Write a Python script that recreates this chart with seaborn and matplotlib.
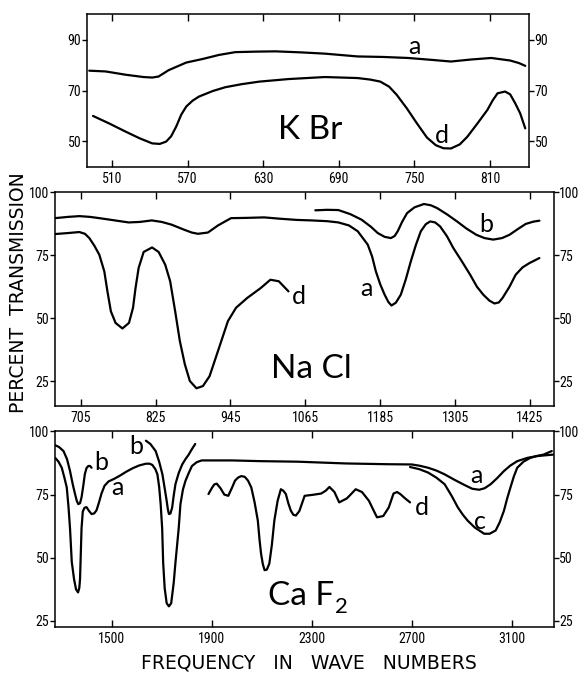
import matplotlib
matplotlib.use("Agg")
import matplotlib.pyplot as plt
from matplotlib import font_manager
import seaborn as sns
import pandas as pd

sns.set_theme(style="ticks")

# narrow lettering for the tick numbers if some condensed face is installed
fonts = font_manager.fontManager.ttflist
names = {f.name for f in fonts}
narrow_family = None
narrow_stretch = "normal"
for n in ["Liberation Sans Narrow", "DejaVu Sans Condensed", "Roboto Condensed", "Open Sans Condensed", "Noto Sans Condensed"]:
    if n in names:
        narrow_family = n
        break
if narrow_family is None:
    for f in fonts:
        if f.name == "DejaVu Sans" and "condensed" in str(f.stretch):
            narrow_family = "DejaVu Sans"
            narrow_stretch = "condensed"
            break
if narrow_family is None:
    narrow_family = "Liberation Sans"
    tick_size = 8.5
else:
    tick_size = 10

plt.rcParams["font.family"] = ["DejaVu Sans"]
plt.rcParams["text.color"] = "black"
plt.rcParams["axes.linewidth"] = 1.1
plt.rcParams["axes.edgecolor"] = "black"

# ---- KBr ----
kbr_a_x = [492, 505, 521, 535, 542, 547, 555, 569, 582, 595, 608, 625, 640, 660, 679, 705, 725, 745, 765, 779, 795, 811, 826, 833, 838]
kbr_a_y = [77.8, 77.5, 76.2, 75.3, 75.1, 75.5, 78, 81, 82.4, 84, 85.1, 85.3, 85.4, 85, 84.5, 83.4, 83.2, 82.8, 82, 81.4, 82.2, 82.8, 81.8, 80.8, 79.7]
kbr_d_x = [495, 508, 521, 532, 542, 548, 553, 557, 561, 565, 569, 574, 579, 590, 600, 613, 627, 650, 679, 705, 715, 723, 730, 736, 744,
           752, 760, 767, 773, 779, 786, 792, 800, 808, 812, 816, 822, 826, 830, 834, 838]
kbr_d_y = [60, 57, 53.8, 51.2, 49.2, 49, 49.9, 52, 55.8, 60.5, 63.7, 66, 67.6, 69.8, 71.3, 72.5, 73.5, 74.5, 75.3, 74.9, 74.3, 73.5, 71.5, 68.3, 63,
           57.1, 51.5, 48.5, 47.3, 47.2, 48.8, 51.8, 57, 62.4, 66, 68.9, 69.6, 68.5, 65, 61, 55.1]

# ---- NaCl ----
nacl_a_x = [664, 685, 703, 720, 735, 760, 782, 800, 819, 835, 851, 870, 883, 893, 909, 925, 946, 970, 999, 1023, 1051, 1075, 1100, 1118,
            1135, 1149, 1165, 1172, 1178, 1185, 1192, 1198, 1203, 1210, 1218, 1226, 1234, 1242, 1250, 1258, 1265, 1273, 1281, 1292,
            1302, 1316, 1329, 1340, 1350, 1360, 1368, 1375, 1381, 1392, 1402, 1413, 1424, 1440]
nacl_a_y = [89.7, 90.2, 90.5, 90.2, 89.7, 88.8, 88, 88.2, 88.8, 88.2, 87.1, 85.2, 84, 83.5, 84, 86.8, 89.7, 89.8, 90, 89.5, 89, 88.8, 88.5, 88,
            86.8, 84.5, 79.2, 74.5, 68.6, 63.5, 59.4, 56.5, 55.1, 56.2, 59.4, 65.5, 72.6, 79, 84.5, 87.3, 88.4, 88, 86.4, 82.5,
            77.9, 72.5, 67.3, 62.5, 59.4, 57, 55.9, 56.3, 58.1, 62.5, 67.3, 70.2, 71.9, 73.9]
nacl_b_x = [1081, 1100, 1118, 1137, 1155, 1170, 1181, 1192, 1202, 1208, 1213, 1220, 1228, 1240, 1255, 1266, 1276, 1292, 1308, 1323,
            1339, 1352, 1366, 1380, 1392, 1405, 1418, 1430, 1440]
nacl_b_y = [92.8, 93, 92.9, 91.3, 89.1, 86.3, 83.8, 82.3, 81.8, 82.6, 84.5, 88.2, 91.7, 94, 95.3, 94.8, 93.7, 91.2, 88.4, 85.6,
            83.1, 81.8, 81.2, 81.8, 83.1, 85.3, 87.4, 88.3, 88.7]
nacl_d_x = [664, 685, 703, 712, 719, 727, 735, 743, 748, 753.5, 761, 772, 782.5, 789, 793, 798, 806, 819.5, 830, 840.5, 848.5, 856.5,
            864, 872, 880, 890.6, 901, 911.6, 925, 941, 954, 972, 993.5, 1009, 1022.5, 1038]
nacl_d_y = [83.4, 83.8, 84.2, 83.5, 81.8, 78.8, 75.2, 68.6, 60.7, 52.8, 48.2, 46, 48.2, 54.2, 62, 70, 76.3, 78.1, 76.3, 71.3, 64.7, 52.8,
            41, 31.8, 25.2, 22.3, 23.2, 27.1, 37, 48.9, 54.2, 58.1, 62, 65.3, 64.7, 60.7]

# ---- CaF2 ----
caf_a_x = [1275, 1288, 1301, 1312, 1321, 1328, 1334, 1341, 1350, 1358, 1366, 1371, 1374, 1376, 1380, 1385, 1392, 1400, 1410, 1420,
           1430, 1440, 1450, 1460, 1472, 1488, 1510, 1532, 1558, 1584, 1610, 1637, 1652, 1663, 1675, 1683, 1690, 1696, 1702, 1706,
           1712, 1720, 1729, 1738, 1748, 1755, 1768, 1775, 1785, 1795, 1808, 1821, 1840, 1860, 1979, 2100, 2242, 2435, 2600, 2699,
           2730, 2764, 2797, 2830, 2870, 2909, 2940, 2968, 2990, 3014, 3040, 3067, 3093, 3120, 3160, 3199, 3230, 3264]
caf_a_y = [89.5, 88, 85.6, 81.5, 77.8, 70, 61.6, 48.3, 41.6, 37.5, 36.3, 38, 41.6, 48.3, 61.6, 68.3, 69.8, 70, 68.5, 67.3,
           67.5, 68.8, 72, 75.5, 78.5, 80.2, 81.2, 82.4, 84, 85.4, 86.5, 87.2, 87.2, 86.7, 85, 83, 78, 71.2, 61.6, 48,
           38, 32, 30.8, 32, 40, 48, 61.6, 71.2, 77, 80.4, 83.5, 86.3, 87.8, 88.5, 88.5, 88.2, 88, 87.3, 87, 86.9,
           86.4, 85.6, 84.5, 83, 80.8, 78.8, 77.3, 76.9, 77.5, 79.1, 81.5, 84.3, 86.5, 88.2, 89.5, 90.2, 90.5, 90.8]
caf_b1_x = [1275, 1290, 1308, 1322, 1334, 1345, 1354, 1361, 1367, 1374, 1380, 1387, 1393, 1400, 1407, 1414, 1420]
caf_b1_y = [94.5, 93.8, 92.2, 89, 84.3, 79, 75.2, 72.5, 71.2, 71.6, 73.9, 78.5, 83, 85.5, 86.3, 86.3, 85.6]
caf_b2_x = [1637, 1655, 1676, 1690, 1703, 1712, 1720, 1725, 1729, 1735, 1742, 1748, 1755, 1768, 1782, 1795, 1808, 1821, 1834]
caf_b2_y = [96.3, 95, 92.2, 88, 83, 77.5, 72.5, 69, 67.3, 67.5, 69.9, 74.5, 79.1, 83.5, 86.9, 89, 90.8, 93, 95]
caf_c_x = [2692, 2730, 2764, 2797, 2830, 2858, 2883, 2903, 2922, 2950, 2988, 3010, 3034, 3050, 3067, 3080, 3093, 3106, 3120, 3145,
           3172, 3200, 3225, 3258]
caf_c_y = [85.9, 85, 83.7, 81.7, 79.1, 74.5, 69.9, 67, 64.7, 62, 59.5, 59.5, 60.8, 64, 68.6, 73.5, 77.8, 82, 85.6, 88,
           89.5, 90.3, 90.8, 92.2]
caf_d_x = [1887, 1900, 1910, 1920, 1935, 1950, 1966, 1980, 1993, 2005, 2018, 2032, 2045, 2058, 2071, 2084, 2091, 2097, 2104, 2111,
           2120, 2130, 2140, 2150, 2163, 2176, 2186, 2196, 2206, 2216, 2226, 2236, 2250, 2271, 2304, 2337, 2355, 2370, 2390, 2409,
           2440, 2475, 2500, 2528, 2545, 2560, 2585, 2607, 2626, 2640, 2653, 2672, 2692]
caf_d_y = [75.2, 77.5, 79, 79.3, 77.5, 75, 74.5, 77.5, 80.5, 81.7, 82.3, 82, 80.5, 77.8, 72, 64.7, 57, 51.6, 47.5, 45.1,
           45.3, 47.7, 55, 64.7, 72.5, 77.1, 76.5, 75.2, 71.5, 68.6, 67, 66.7, 68.5, 74.5, 74.9, 75.4, 76.5, 78, 76, 71.9,
           73.5, 77.1, 76, 72.5, 69, 66, 66.5, 69.9, 75.4, 76, 75.2, 73.5, 71.9]

kbr_xticks = [510, 570, 630, 690, 750, 810]
kbr_yticks = [50, 70, 90]
nacl_xticks = [705, 825, 945, 1065, 1185, 1305, 1425]
nacl_yticks = [25, 50, 75, 100]
caf_xticks = [1500, 1900, 2300, 2700, 3100]
caf_yticks = [25, 50, 75, 100]

fig = plt.figure(figsize=(5.82, 6.78), dpi=100)
ax1 = fig.add_axes([0.149, 0.754, 0.760, 0.225])
ax2 = fig.add_axes([0.0945, 0.4016, 0.857, 0.315])
ax3 = fig.add_axes([0.0945, 0.0748, 0.857, 0.289])

def draw(ax, xs, ys):
    df = pd.DataFrame({"x": xs, "y": ys})
    sns.lineplot(data=df, x="x", y="y", ax=ax, color="black", lw=1.6, sort=False, estimator=None)

def style(ax, xlim, ylim, xt, yt):
    ax.set_xlim(*xlim)
    ax.set_ylim(*ylim)
    ax.set_xticks(xt)
    ax.set_yticks(yt)
    ax.set_xlabel("")
    ax.set_ylabel("")
    ax.tick_params(axis="x", direction="in", top=True, bottom=True, length=5, width=1,
                   pad=3.5, colors="black")
    ax.tick_params(axis="y", direction="out", left=True, right=True, labelleft=True, labelright=True,
                   length=3.5, width=1, pad=0.5, colors="black")
    for tick in ax.xaxis.get_major_ticks() + ax.yaxis.get_major_ticks():
        for lab in (tick.label1, tick.label2):
            lab.set_fontfamily(narrow_family)
            lab.set_fontstretch(narrow_stretch)
            lab.set_fontsize(tick_size)
    for s in ax.spines.values():
        s.set_visible(True)
        s.set_color("black")

lbl = dict(fontsize=18, ha="center", va="center", family=["Lato", "DejaVu Sans"], color="black")
big = dict(fontsize=24, ha="center", va="center", family=["Lato", "DejaVu Sans"], color="black")

draw(ax1, kbr_a_x, kbr_a_y)
draw(ax1, kbr_d_x, kbr_d_y)
style(ax1, (490, 841), (40, 100), kbr_xticks, kbr_yticks)
ax1.text(750, 87.4, "a", **lbl)
ax1.text(772, 52.5, "d", **lbl)
ax1.text(667, 54.5, "K Br", **big)

draw(ax2, nacl_a_x, nacl_a_y)
draw(ax2, nacl_b_x, nacl_b_y)
draw(ax2, nacl_d_x, nacl_d_y)
style(ax2, (664, 1463), (15.4, 100), nacl_xticks, nacl_yticks)
ax2.text(1055, 58.8, "d", **lbl)
ax2.text(1163, 62, "a", **lbl)
ax2.text(1355, 87.1, "b", **lbl)
ax2.text(1074, 29.8, "Na Cl", **big)

draw(ax3, caf_a_x, caf_a_y)
draw(ax3, caf_b1_x, caf_b1_y)
draw(ax3, caf_b2_x, caf_b2_y)
draw(ax3, caf_c_x, caf_c_y)
draw(ax3, caf_d_x, caf_d_y)
style(ax3, (1274, 3266), (22.5, 100), caf_xticks, caf_yticks)
ax3.text(1459, 87.5, "b", **lbl)
ax3.text(1597, 94, "b", **lbl)
ax3.text(1525, 77.6, "a", **lbl)
ax3.text(2738, 69.7, "d", **lbl)
ax3.text(2959, 82.6, "a", **lbl)
ax3.text(2972, 64.4, "c", **lbl)
ax3.text(2256, 34.9, "Ca F", **big)
ax3.text(2416, 30.6, "2", fontsize=16, ha="center", va="center", family=["Lato", "DejaVu Sans"], color="black")

fig.text(0.031, 0.569, "PERCENT  TRANSMISSION", rotation=90, ha="center", va="center",
         fontsize=13.5, family=["DejaVu Sans"], color="black")
fig.text(0.53, 0.022, "FREQUENCY   IN   WAVE   NUMBERS", ha="center", va="center",
         fontsize=13.5, family=["DejaVu Sans"], color="black")

fig.savefig("out.png", dpi=100)
